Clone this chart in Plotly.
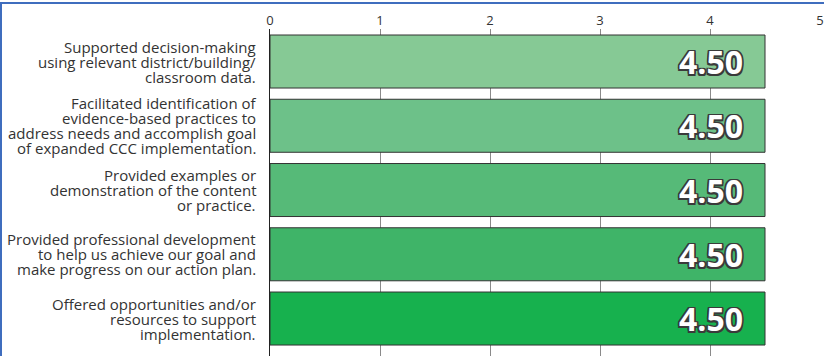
import plotly.graph_objects as go

categories = [
    "Supported decision-making<br>using relevant district/building/<br>classroom data.",
    "Facilitated identification of<br>evidence-based practices to<br>address needs and accomplish goal<br>of expanded CCC implementation.",
    "Provided examples or<br>demonstration of the content<br>or practice.",
    "Provided professional development<br>to help us achieve our goal and<br>make progress on our action plan.",
    "Offered opportunities and/or<br>resources to support<br>implementation.",
]
values = [4.50, 4.50, 4.50, 4.50, 4.50]
bar_colors = ["#86C995", "#6DC189", "#56BA78", "#3FB468", "#17B14E"]
x_ticks = [0, 1, 2, 3, 4, 5]

W, H = 824, 356
ML, MR, MT, MB = 270, 4, 29, 0
idx = list(range(len(categories)))

fig = go.Figure()
fig.add_trace(go.Bar(
    x=values, y=idx, orientation="h",
    marker=dict(color=bar_colors, line=dict(color="#333333", width=1)),
    width=0.825,
    hoverinfo="skip",
))

annotations = []
line_step = 15
for i, lab in enumerate(categories):
    lines = lab.split("<br>")
    n = len(lines)
    for j, ln in enumerate(lines):
        annotations.append(dict(
            x=0, xref="paper", y=i, yref="y",
            text=ln, showarrow=False, xanchor="right", yanchor="middle",
            xshift=-12, yshift=((n - 1) / 2 - j) * line_step,
            font=dict(family="Open Sans", size=15, color="#333333"),
        ))
    annotations.append(dict(
        x=values[i], xref="x", y=i, yref="y",
        text=f"{values[i]:.2f}", showarrow=False, xanchor="right", yanchor="middle",
        xshift=-20, yshift=0,
        font=dict(family="Open Sans", size=32, color="white", weight=700,
                  shadow="-1.5px -1.5px 0 #3a3a3a, 1.5px -1.5px 0 #3a3a3a, -1.5px 1.5px 0 #3a3a3a, 1.5px 1.5px 0 #3a3a3a, 0 -1.5px 0 #3a3a3a, 0 1.5px 0 #3a3a3a, -1.5px 0 0 #3a3a3a, 1.5px 0 0 #3a3a3a"),
    ))

pw = W - ML - MR
ph = H - MT - MB
shapes = [
    dict(type="line", xref="paper", yref="paper",
         x0=-ML / pw, x1=(W - ML) / pw, y0=(H - 3 - MB) / ph, y1=(H - 3 - MB) / ph,
         line=dict(color="#3F6DBE", width=2)),
    dict(type="line", xref="paper", yref="paper",
         x0=(1 - ML) / pw, x1=(1 - ML) / pw, y0=-MB / ph, y1=(H - 3 - MB) / ph,
         line=dict(color="#3F6DBE", width=2)),
]

fig.update_layout(
    width=W, height=H,
    margin=dict(l=ML, r=MR, t=MT, b=MB, pad=0),
    paper_bgcolor="white", plot_bgcolor="white",
    showlegend=False,
    annotations=annotations, shapes=shapes,
    xaxis=dict(
        side="top", range=[0, 5], tickvals=x_ticks,
        showgrid=True, gridcolor="#8a8a8a", gridwidth=1,
        zeroline=False, showline=False,
        ticks="", ticklabelstandoff=0,
        tickfont=dict(family="Open Sans", size=13, color="#333333"),
        fixedrange=True,
    ),
    yaxis=dict(
        range=[4.583, -0.506], showticklabels=False, showgrid=False,
        zeroline=False, showline=True, linecolor="#222222", linewidth=1,
        fixedrange=True,
    ),
)

fig.write_html("out.html")
